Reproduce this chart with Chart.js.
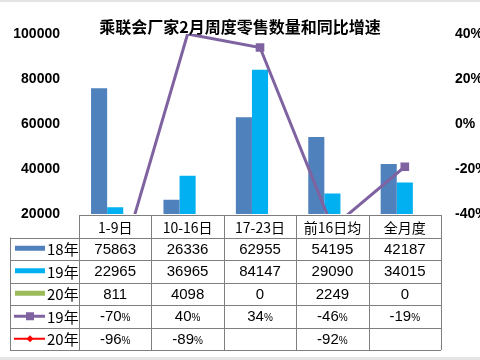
<!DOCTYPE html>
<html>
<head>
<meta charset="utf-8">
<script src="https://cdn.jsdelivr.net/npm/chart.js@4.4.0/dist/chart.umd.min.js"></script>
<style>
  html, body { margin: 0; padding: 0; background: #fff; }
  #caja { position: relative; width: 480px; height: 360px; }
  .borde { position: absolute; left: 0; width: 480px; background: #e4e4e4; }
</style>
</head>
<body>
<div id="caja">
  <canvas id="grafica"></canvas>
  <div class="borde" style="top:0;height:2px"></div>
  <div class="borde" style="top:357px;height:3px"></div>
</div>
<script>
// Datos
const titulo = "乘联会厂家2月周度零售数量和同比增速";
const categorias = ["1-9日", "10-16日", "17-23日", "前16日均", "全月度"];
const ventas18 = [75863, 26336, 62955, 54195, 42187];
const ventas19 = [22965, 36965, 84147, 29090, 34015];
const ventas20 = [811, 4098, 0, 2249, 0];
const crecimiento19 = [-70, 40, 34, -46, -19];
const crecimiento20 = [-96, -89, null, -92, null];
const ticksVentas = [20000, 40000, 60000, 80000, 100000];
const ticksPorcentaje = [-40, -20, 0, 20, 40];

const fuente = "'Liberation Sans', 'Noto Sans CJK SC', sans-serif";
const fuenteCJK = "'Noto Sans CJK SC', 'Liberation Sans', sans-serif";

// solo marcar puntos que caen dentro del eje derecho
function radioPunto(r) {
    return function (c) {
        const v = c.raw;
        const min = ticksPorcentaje[0];
        const max = ticksPorcentaje[ticksPorcentaje.length - 1];
        return v !== null && v > min && v < max ? r : 0;
    };
}

// =========================
//   Titulo + tabla de datos
// =========================
const tablaDatos = {
    id: "tablaDatos",
    afterDraw(chart) {
        const ctx = chart.ctx;
        const area = chart.chartArea;
        const escalaX = chart.scales.x;
        const anchoCol = (area.right - area.left) / categorias.length;
        const altoFila = 22.5;
        const arriba = area.bottom + 1;
        const izq = 10;
        const datasets = chart.data.datasets;
        const abajo = arriba + altoFila * (datasets.length + 1);

        ctx.save();

        // titulo
        ctx.fillStyle = "#000";
        ctx.font = "bold 16px " + fuenteCJK;
        ctx.textAlign = "center";
        ctx.textBaseline = "middle";
        ctx.fillText(titulo, 240, 27);

        // lineas de la tabla
        ctx.strokeStyle = "#7f7f7f";
        ctx.lineWidth = 1;
        ctx.beginPath();
        const r = v => Math.round(v) + 0.5;
        ctx.moveTo(area.left, r(arriba));
        ctx.lineTo(area.right, r(arriba));
        for (let k = 1; k <= datasets.length + 1; k++) {
            const y = r(arriba + k * altoFila);
            ctx.moveTo(izq, y);
            ctx.lineTo(area.right, y);
        }
        ctx.moveTo(r(izq), arriba + altoFila);
        ctx.lineTo(r(izq), abajo);
        for (let c = 0; c <= categorias.length; c++) {
            const x = r(area.left + c * anchoCol);
            ctx.moveTo(x, arriba);
            ctx.lineTo(x, abajo);
        }
        ctx.stroke();

        // encabezados
        ctx.fillStyle = "#000";
        ctx.font = "14px " + fuenteCJK;
        categorias.forEach((cat, i) => {
            ctx.fillText(cat, escalaX.getPixelForValue(i), arriba + altoFila / 2 + 1);
        });

        // filas
        datasets.forEach((ds, f) => {
            const yc = arriba + altoFila * (f + 1.5);

            // simbolo de leyenda
            if (ds.type === "bar") {
                ctx.fillStyle = ds.backgroundColor;
                ctx.fillRect(15, yc - 3, 30, 5);
            } else {
                ctx.strokeStyle = ds.borderColor;
                ctx.lineWidth = ds.borderWidth;
                ctx.beginPath();
                ctx.moveTo(14, yc);
                ctx.lineTo(45, yc);
                ctx.stroke();
                ctx.fillStyle = ds.borderColor;
                if (ds.pointStyle === "rect") {
                    ctx.fillRect(26, yc - 4, 8, 8);
                } else {
                    ctx.beginPath();
                    ctx.moveTo(30, yc - 3.5);
                    ctx.lineTo(33.5, yc);
                    ctx.lineTo(30, yc + 3.5);
                    ctx.lineTo(26.5, yc);
                    ctx.closePath();
                    ctx.fill();
                }
            }
            ctx.fillStyle = "#000";
            ctx.font = "15px " + fuenteCJK;
            ctx.textAlign = "left";
            ctx.fillText(ds.label, 47, yc + 1);

            // valores
            ds.data.forEach((v, i) => {
                if (v === null) return;
                const xc = escalaX.getPixelForValue(i);
                if (ds.type === "bar") {
                    ctx.font = "15px " + fuente;
                    ctx.textAlign = "center";
                    ctx.fillText(String(v), xc, yc + 1);
                } else {
                    ctx.font = "15px " + fuente;
                    const num = String(v);
                    const wNum = ctx.measureText(num).width;
                    ctx.font = "10px " + fuente;
                    const wPct = ctx.measureText("%").width;
                    const x0 = xc - (wNum + wPct) / 2;
                    ctx.textAlign = "left";
                    ctx.font = "15px " + fuente;
                    ctx.fillText(num, x0, yc + 1);
                    ctx.font = "10px " + fuente;
                    ctx.fillText("%", x0 + wNum, yc + 2);
                }
            });
        });

        ctx.restore();
    }
};

new Chart(document.getElementById("grafica"), {
    data: {
        labels: categorias,
        datasets: [
            { type: "bar", label: "18年", data: ventas18, backgroundColor: "#4f81bd", yAxisID: "y", order: 1 },
            { type: "bar", label: "19年", data: ventas19, backgroundColor: "#00b0f0", yAxisID: "y", order: 1 },
            { type: "bar", label: "20年", data: ventas20, backgroundColor: "#9bbb59", yAxisID: "y", order: 1 },
            {
                type: "line", label: "19年", data: crecimiento19, yAxisID: "y1", order: 0,
                borderColor: "#7f63a1", backgroundColor: "#7f63a1", borderWidth: 3,
                pointStyle: "rect", pointRadius: radioPunto(4), tension: 0
            },
            {
                type: "line", label: "20年", data: crecimiento20, yAxisID: "y1", order: 0,
                borderColor: "#ff0000", backgroundColor: "#ff0000", borderWidth: 2,
                pointStyle: "rectRot", pointRadius: radioPunto(3), tension: 0
            }
        ]
    },
    options: {
        responsive: true,
        maintainAspectRatio: false,
        animation: false,
        layout: { padding: { top: 34, bottom: 146, left: 0, right: 0 } },
        datasets: {
            bar: { categoryPercentage: 0.667, barPercentage: 1.0 }
        },
        plugins: {
            legend: { display: false },
            title: { display: false },
            tooltip: { enabled: false }
        },
        scales: {
            x: { display: false },
            y: {
                position: "left",
                min: ticksVentas[0],
                max: ticksVentas[ticksVentas.length - 1],
                afterBuildTicks: s => { s.ticks = ticksVentas.map(v => ({ value: v })); },
                afterFit: s => { s.width = 79; },
                grid: { display: false, drawTicks: false },
                border: { display: false },
                ticks: {
                    padding: 19,
                    color: "#000",
                    font: { family: fuente, size: 14, weight: "bold" },
                    callback: v => String(v)
                }
            },
            y1: {
                position: "right",
                min: ticksPorcentaje[0],
                max: ticksPorcentaje[ticksPorcentaje.length - 1],
                afterBuildTicks: s => { s.ticks = ticksPorcentaje.map(v => ({ value: v })); },
                afterFit: s => { s.width = 39; },
                grid: { display: false, drawTicks: false },
                border: { display: false },
                ticks: {
                    padding: 14,
                    color: "#000",
                    font: { family: fuente, size: 14, weight: "bold" },
                    callback: v => v + "%"
                }
            }
        }
    },
    plugins: [tablaDatos]
});
</script>
</body>
</html>
